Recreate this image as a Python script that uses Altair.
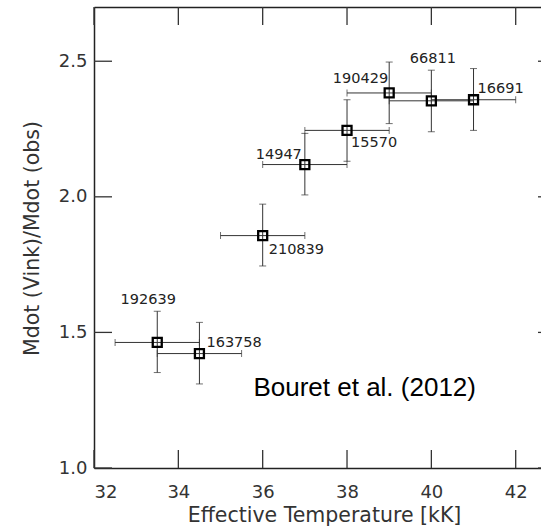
import altair as alt
import pandas as pd

# ---- data ----
stars = ["192639", "163758", "210839", "14947", "15570", "190429", "66811", "16691"]
teff = [33.5, 34.5, 36.0, 37.0, 38.0, 39.0, 40.0, 41.0]
teff_lo = [32.5, 33.5, 35.0, 36.0, 37.0, 38.0, 39.0, 40.0]
teff_hi = [34.5, 35.5, 37.0, 38.0, 39.0, 40.0, 41.0, 42.0]
ratio = [1.463, 1.422, 1.857, 2.119, 2.245, 2.383, 2.354, 2.358]
ratio_lo = [1.352, 1.310, 1.745, 2.007, 2.131, 2.270, 2.240, 2.245]
ratio_hi = [1.578, 1.537, 1.973, 2.234, 2.358, 2.497, 2.467, 2.473]
x_ticks = [32, 34, 36, 38, 40, 42]
y_ticks = [1.0, 1.5, 2.0, 2.5]
note = "Bouret et al. (2012)"

# one shared table: star rows plus axis-tick rows
star_rows = pd.DataFrame({
    "kind": "star", "star": stars, "teff": teff, "teff_lo": teff_lo, "teff_hi": teff_hi,
    "ratio": ratio, "ratio_lo": ratio_lo, "ratio_hi": ratio_hi,
})
xtick_rows = pd.DataFrame({"kind": "xtick", "tv": [float(v) for v in x_ticks]})
ytick_rows = pd.DataFrame({"kind": "ytick", "tv": [float(v) for v in y_ticks]})
table = pd.concat([star_rows, xtick_rows, ytick_rows], ignore_index=True)

# ---- layout / style ----
AX_FONT = "DejaVu Sans"
INK = "#222222"
BAR = "#333333"
W, H = 447, 461
TICK = 18
X0, X1 = 32.0, 42.6
Y0, Y1 = 1.0, 2.7
xscale = alt.Scale(domain=[X0, X1], nice=False, zero=False)
yscale = alt.Scale(domain=[Y0, Y1], nice=False, zero=False)
TX = TICK * (X1 - X0) / W            # tick length in x data units
TY = TICK * (Y1 - Y0) / H            # tick length in y data units
X_FRAME_R = X0 + (W + 15) * (X1 - X0) / W   # right frame lies just outside the window

label_layout = {
    "192639": ("center", -9, -42),
    "163758": ("left", 7, -11),
    "210839": ("left", 6, 14),
    "14947": ("right", -3, -10),
    "15570": ("left", 4, 12.5),
    "190429": ("right", -1, -14),
    "66811": ("center", 1.5, -41.5),
    "16691": ("left", 4, -11),
}

axis_style = dict(
    grid=False, ticks=False, labelFont=AX_FONT, labelFontSize=18, labelColor="#333333",
    titleFont=AX_FONT, titleFontSize=20.5, titleFontWeight="normal", titleColor="#333333",
    domainColor=INK, domainWidth=1.5,
)


def nx(f):
    return alt.X(f + ":Q", scale=xscale, axis=None)


def ny(f):
    return alt.Y(f + ":Q", scale=yscale, axis=None)


root = alt.Chart(table)
base = root.transform_filter(alt.datum.kind == "star")

x_bottom = alt.X("teff_lo:Q", scale=xscale, axis=alt.Axis(
    orient="bottom", values=x_ticks, format="d", title="Effective Temperature [kK]",
    labelPadding=29.5, labelBaseline="alphabetic",
    titleX=230, titleY=53.5, titleBaseline="alphabetic", titleAlign="center", **axis_style))
y_left = alt.Y("ratio:Q", scale=yscale, axis=alt.Axis(
    orient="left", values=y_ticks, format=".1f", title="Mdot (Vink)/Mdot (obs)",
    labelPadding=7,
    titleX=-62, titleY=231, titleBaseline="middle", titleAlign="center", titleAngle=-90,
    **axis_style))

hbar = base.mark_rule(color=BAR, strokeWidth=1).encode(
    x=x_bottom, x2="teff_hi:Q", y=y_left)

x_top = alt.X("teff:Q", scale=xscale, axis=alt.Axis(
    orient="top", values=x_ticks, labels=False, title=None, **axis_style))
vbar = base.mark_rule(color=BAR, strokeWidth=1).encode(
    x=x_top, y=ny("ratio_lo"), y2="ratio_hi:Q")

cap_l = base.mark_tick(orient="vertical", size=7, thickness=1, color=BAR).encode(x=nx("teff_lo"), y=ny("ratio"))
cap_r = base.mark_tick(orient="vertical", size=7, thickness=1, color=BAR).encode(x=nx("teff_hi"), y=ny("ratio"))
cap_b = base.mark_tick(orient="horizontal", size=7, thickness=1, color=BAR).encode(x=nx("teff"), y=ny("ratio_lo"))
cap_t = base.mark_tick(orient="horizontal", size=7, thickness=1, color=BAR).encode(x=nx("teff"), y=ny("ratio_hi"))

squares = base.mark_point(shape="square", size=81, filled=False, strokeWidth=2.3,
                          color="#000000", opacity=1).encode(x=nx("teff"), y=ny("ratio"))

labels = []
for name, (align, dx, dy) in label_layout.items():
    labels.append(
        root.transform_filter(alt.datum.star == name).mark_text(
            align=align, baseline="middle", dx=dx, dy=dy, font=AX_FONT,
            fontSize=14.5, color=INK
        ).encode(x=nx("teff"), y=ny("ratio"), text="star:N")
    )

# inward frame ticks, drawn from the tick rows through the same scales
xt_rows = root.transform_filter(alt.datum.kind == "xtick")
yt_rows = root.transform_filter(alt.datum.kind == "ytick")
t_bottom = xt_rows.transform_calculate(
    a=f"{Y0}", b=f"{Y0 + TY}").mark_rule(color="#333333", strokeWidth=1.3).encode(
    x=nx("tv"), y=ny("a"), y2="b:Q")
t_top = xt_rows.transform_calculate(
    c=f"{Y1 - TY}", d=f"{Y1}").mark_rule(color="#333333", strokeWidth=1.3).encode(
    x=nx("tv"), y=ny("c"), y2="d:Q")
t_left = yt_rows.transform_calculate(
    e=f"{X0}", f=f"{X0 + TX}").mark_rule(color="#333333", strokeWidth=1.3).encode(
    y=ny("tv"), x=nx("e"), x2="f:Q")
t_right = yt_rows.transform_calculate(
    g=f"{X_FRAME_R - TX}", h=f"{X_FRAME_R}").mark_rule(color="#333333", strokeWidth=1.3).encode(
    y=ny("tv"), x=nx("g"), x2="h:Q")

annot = alt.Chart(pd.DataFrame({"t": [note]})).mark_text(
    align="left", baseline="alphabetic", font="Liberation Sans", fontSize=26, color="#000000"
).encode(
    x=alt.XDatum(35.78, type="quantitative", scale=xscale, axis=None),
    y=alt.YDatum(1.264, type="quantitative", scale=yscale, axis=None),
    text="t:N",
)

chart = alt.layer(
    hbar, vbar, cap_l, cap_r, cap_b, cap_t, squares, *labels, annot,
    t_bottom, t_top, t_left, t_right,
).resolve_axis(x="independent", y="independent").properties(
    width=W, height=H,
    autosize=alt.AutoSizeParams(type="none"),
    padding={"left": 94, "top": 7, "right": 0, "bottom": 60},
).configure_view(strokeWidth=0)

chart.save("out.html", embed_options={"renderer": "svg", "actions": False})
